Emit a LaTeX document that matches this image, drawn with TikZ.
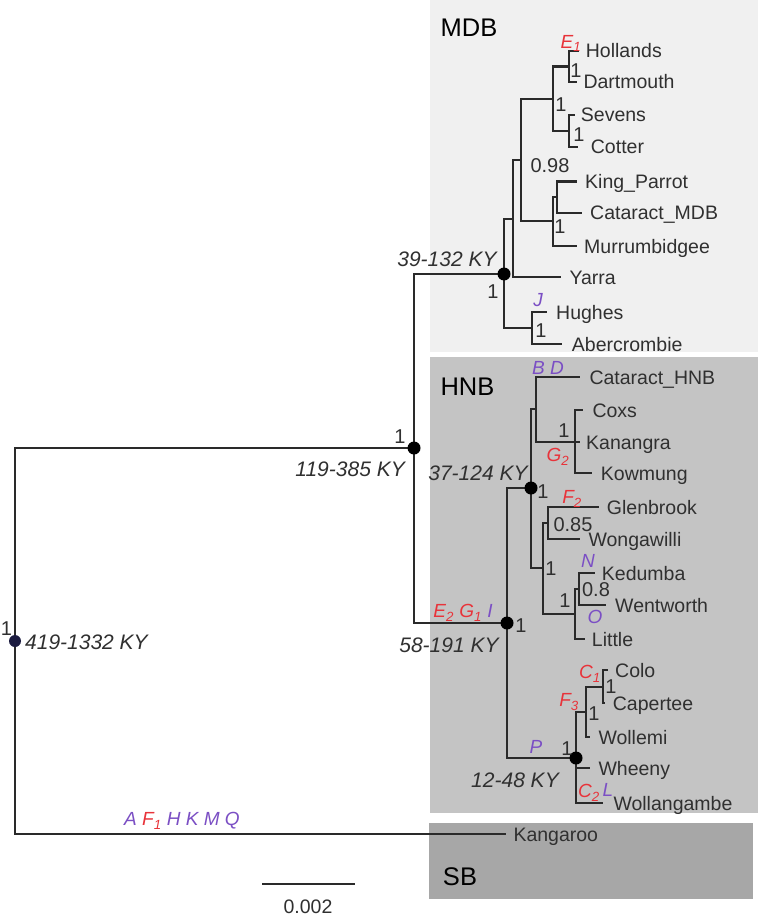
\documentclass[tikz,border=0pt]{standalone}
\usepackage{fontspec}
\setmainfont{Liberation Sans}
\definecolor{ln}{HTML}{2A2A2A}
\definecolor{txt}{HTML}{303030}
\definecolor{rd}{HTML}{E8333A}
\definecolor{pu}{HTML}{7B4FC4}
\definecolor{boxA}{HTML}{F0F0F0}
\definecolor{boxB}{HTML}{C4C4C4}
\definecolor{boxC}{HTML}{A7A7A7}
\definecolor{navy}{HTML}{1C1C40}
\begin{document}
\begin{tikzpicture}[x=1pt,y=-1pt,
 tip/.style={anchor=west, inner sep=0pt, text height=14pt, text depth=0pt, text=txt, font=\fontsize{19.5}{20}\selectfont},
 tb/.style={draw=ln, line width=2.3pt, shorten >=8pt},
 ib/.style={draw=ln, line width=2.3pt},
 sv/.style={inner sep=0pt, text height=14.5pt, text depth=0pt, text=txt, font=\fontsize{20}{20}\selectfont},
 kyl/.style={inner sep=0pt, text height=15pt, text depth=0pt, text=txt, font=\fontsize{21}{21}\selectfont\itshape},
 rl/.style={inner sep=0pt, text height=13.6pt, text depth=0pt, text=rd, font=\fontsize{19}{19}\selectfont\itshape},
 pl/.style={inner sep=0pt, text height=13.6pt, text depth=0pt, text=pu, font=\fontsize{19}{19}\selectfont\itshape},
 bl/.style={inner sep=0pt, text height=18.3pt, text depth=0pt, text=black, font=\fontsize{25.5}{26}\selectfont},
 dot/.style={circle, fill=black, inner sep=0pt, minimum size=13pt},
]
\useasboundingbox (0,0) rectangle (758,917);
\fill[white] (0,0) rectangle (758,917);
% clade boxes
\fill[boxA] (430,0) rectangle (758,352);
\fill[boxB] (430,357) rectangle (758,813);
\fill[boxC] (429,823) rectangle (753,899);
\node[bl] (lMDB) at (469,27) {MDB};
\node[bl] (lHNB) at (467.5,386) {HNB};
\node[bl] (lSB) at (460,876) {SB};

% tips
\node[tip] (Hollands) at (585.7,51) {Hollands};
\node[tip] (Dartmouth) at (583.3,82) {Dartmouth};
\node[tip] (Sevens) at (580.7,115) {Sevens};
\node[tip] (Cotter) at (590.7,147) {Cotter};
\node[tip] (KingParrot) at (585,181.5) {King\_Parrot};
\node[tip] (CataractMDB) at (590,213) {Cataract\_MDB};
\node[tip] (Murrumbidgee) at (584,246) {Murrumbidgee};
\node[tip] (Yarra) at (569.3,277) {Yarra};
\node[tip] (Hughes) at (556,312) {Hughes};
\node[tip] (Abercrombie) at (571.7,344) {Abercrombie};
\node[tip] (CataractHNB) at (589.3,377) {Cataract\_HNB};
\node[tip] (Coxs) at (592.3,410) {Coxs};
\node[tip] (Kanangra) at (586,442) {Kanangra};
\node[tip] (Kowmung) at (600.7,473) {Kowmung};
\node[tip] (Glenbrook) at (606.7,507) {Glenbrook};
\node[tip] (Wongawilli) at (588.3,539) {Wongawilli};
\node[tip] (Kedumba) at (601.7,573) {Kedumba};
\node[tip] (Wentworth) at (615,605) {Wentworth};
\node[tip] (Little) at (591.7,639) {Little};
\node[tip] (Colo) at (615,670) {Colo};
\node[tip] (Capertee) at (612.7,703) {Capertee};
\node[tip] (Wollemi) at (598.3,737) {Wollemi};
\node[tip] (Wheeny) at (598.3,768) {Wheeny};
\node[tip] (Wollangambe) at (613.3,803) {Wollangambe};
\node[tip] (Kangaroo) at (513.3,834) {Kangaroo};

% internal nodes
\coordinate (nHD) at (569,66.5);
\coordinate (nSC) at (569,131);
\coordinate (nHDSC) at (553,99);
\coordinate (nKC) at (557,197);
\coordinate (nKCM) at (553,221);
\coordinate (n098) at (521,160);
\coordinate (nY) at (513,219);
\coordinate (nHA) at (532,328);
\coordinate (nMDB) at (504,274);
\coordinate (nCKK) at (575,442);
\coordinate (nCC) at (536,409);
\coordinate (nGW) at (548,523);
\coordinate (nKW) at (579,589);
\coordinate (nKWL) at (575,614);
\coordinate (nGWKL) at (543,568);
\coordinate (n37) at (531,488);
\coordinate (nCCap) at (602.7,687);
\coordinate (nCCW) at (586,712);
\coordinate (n12) at (576,758);
\coordinate (nHNB) at (507,623);
\coordinate (n119) at (414,448);
\coordinate (nRoot) at (15,641);

% branches to tips
\draw[tb,shorten >=7pt] (nHD) |- (Hollands.west);
\draw[tb,shorten >=6pt] (nHD) |- (Dartmouth.west);
\draw[tb,shorten >=6pt] (nSC) |- (Sevens.west);
\draw[tb,shorten >=13pt] (nSC) |- (Cotter.west);
\draw[tb] (nKC) |- (KingParrot.west);
\draw[tb] (nKC) |- (CataractMDB.west);
\draw[tb,shorten >=7pt] (nKCM) |- (Murrumbidgee.west);
\draw[tb] (nY) |- (Yarra.west);
\draw[tb,shorten >=9pt] (nHA) |- (Hughes.west);
\draw[tb,shorten >=10pt] (nHA) |- (Abercrombie.west);
\draw[tb,shorten >=9pt] (nCC) |- (CataractHNB.west);
\draw[tb,shorten >=9pt] (nCKK) |- (Coxs.west);
\draw[tb,shorten >=6pt] (nCKK) |- (Kanangra.west);
\draw[tb,shorten >=9pt] (nCKK) |- (Kowmung.west);
\draw[tb] (nGW) |- (Glenbrook.west);
\draw[tb] (nGW) |- (Wongawilli.west);
\draw[tb,shorten >=7pt] (nKW) |- (Kedumba.west);
\draw[tb,shorten >=9pt] (nKW) |- (Wentworth.west);
\draw[tb,shorten >=7pt] (nKWL) |- (Little.west);
\draw[tb,shorten >=7pt] (nCCap) |- (Colo.west);
\draw[tb] (nCCap) |- (Capertee.west);
\draw[tb] (nCCW) |- (Wollemi.west);
\draw[tb] (n12) |- (Wheeny.west);
\draw[tb,shorten >=10pt] (n12) |- (Wollangambe.west);
\draw[tb,shorten >=7pt] (nRoot) |- (Kangaroo.west);

% internal branches
\draw[ib] (nHDSC) |- (nHD);
\draw[ib] (nHDSC) |- (nSC);
\draw[ib] (nKCM) |- (nKC);
\draw[ib] (n098) |- (nHDSC);
\draw[ib] (n098) |- (nKCM);
\draw[ib] (nY) |- (n098);
\draw[ib] (nMDB) |- (nY);
\draw[ib] (nMDB) |- (nHA);
\draw[ib] (nCC) |- (nCKK);
\draw[ib] (nKWL) |- (nKW);
\draw[ib] (nGWKL) |- (nGW);
\draw[ib] (nGWKL) |- (nKWL);
\draw[ib] (n37) |- (nCC);
\draw[ib] (n37) |- (nGWKL);
\draw[ib] (nCCW) |- (nCCap);
\draw[ib] (n12) |- (nCCW);
\draw[ib] (nHNB) |- (n37);
\draw[ib] (nHNB) |- (n12);
\draw[ib] (n119) |- (nMDB);
\draw[ib] (n119) |- (nHNB);
\draw[ib] (nRoot) |- (n119);

% dated nodes
\node[dot] (d119) at (n119) {};
\node[dot] (dMDB) at (nMDB) {};
\node[dot] (d37) at (n37) {};
\node[dot] (dHNB) at (nHNB) {};
\node[dot] (d12) at (n12) {};
\node[dot, fill=navy, minimum size=12pt] (dRoot) at (nRoot) {};

% support values
\node[sv] (sHD) at (576,70) {1};
\node[sv] (sHDSC) at (561,104) {1};
\node[sv] (sSC) at (579,134) {1};
\node[sv] (s098) at (550,165) {0.98};
\node[sv] (sKCM) at (560,226) {1};
\node[sv] (sMDB) at (493,291) {1};
\node[sv] (sHA) at (541,330) {1};
\node[sv] (s119) at (400,436) {1};
\node[sv] (sCKK) at (564,430) {1};
\node[sv] (s37) at (543,491) {1};
\node[sv] (s085) at (573,524) {0.85};
\node[sv] (sGWKL) at (551,568) {1};
\node[sv] (s08) at (596,589) {0.8};
\node[sv] (sKWL) at (565,600) {1};
\node[sv] (sHNB) at (521,625) {1};
\node[sv] (sCCap) at (611,686) {1};
\node[sv] (sCCW) at (594,713) {1};
\node[sv] (s12) at (567,748) {1};
\node[sv] (sRoot) at (6.5,628) {1};

% age labels
\node[kyl] (k39) at (447,259) {39-132 KY};
\node[kyl, anchor=east] (k119) at (405,469) {119-385 KY};
\node[kyl] (k37) at (478,473) {37-124 KY};
\node[kyl] (k58) at (449,645) {58-191 KY};
\node[kyl] (k12) at (515,780) {12-48 KY};
\node[kyl, anchor=west] (k419) at (25,642) {419-1332 KY};

% character labels
\node[rl] (cE1) at (571,42) {E\textsubscript{1}};
\node[pl] (cJ) at (538,300) {J};
\node[pl] (cBD) at (548,368) {B D};
\node[rl] (cG2) at (558,455) {G\textsubscript{2}};
\node[rl] (cF2) at (572,497) {F\textsubscript{2}};
\node[pl] (cN) at (588,561) {N};
\node[pl] (cO) at (595,617) {O};
\node[rl] (cE2G1I) at (463,611) {E\textsubscript{2} G\textsubscript{1} \textcolor{pu}{I}};
\node[rl] (cC1) at (590,672) {C\textsubscript{1}};
\node[rl] (cF3) at (569,700) {F\textsubscript{3}};
\node[pl] (cP) at (536,747) {P};
\node[rl] (cC2) at (589,791) {C\textsubscript{2}};
\node[pl] (cL) at (608,790) {L};
\node[pl] (cAQ) at (182,819) {A \textcolor{rd}{F\textsubscript{1}} H K M Q};

% scale bar
\coordinate (sbL) at (262,884);
\coordinate (sbR) at (355,884);
\draw[ib] (sbL) -- (sbR);
\node[tip, anchor=center] (sbT) at (308,906) {0.002};
\end{tikzpicture}
\end{document}
